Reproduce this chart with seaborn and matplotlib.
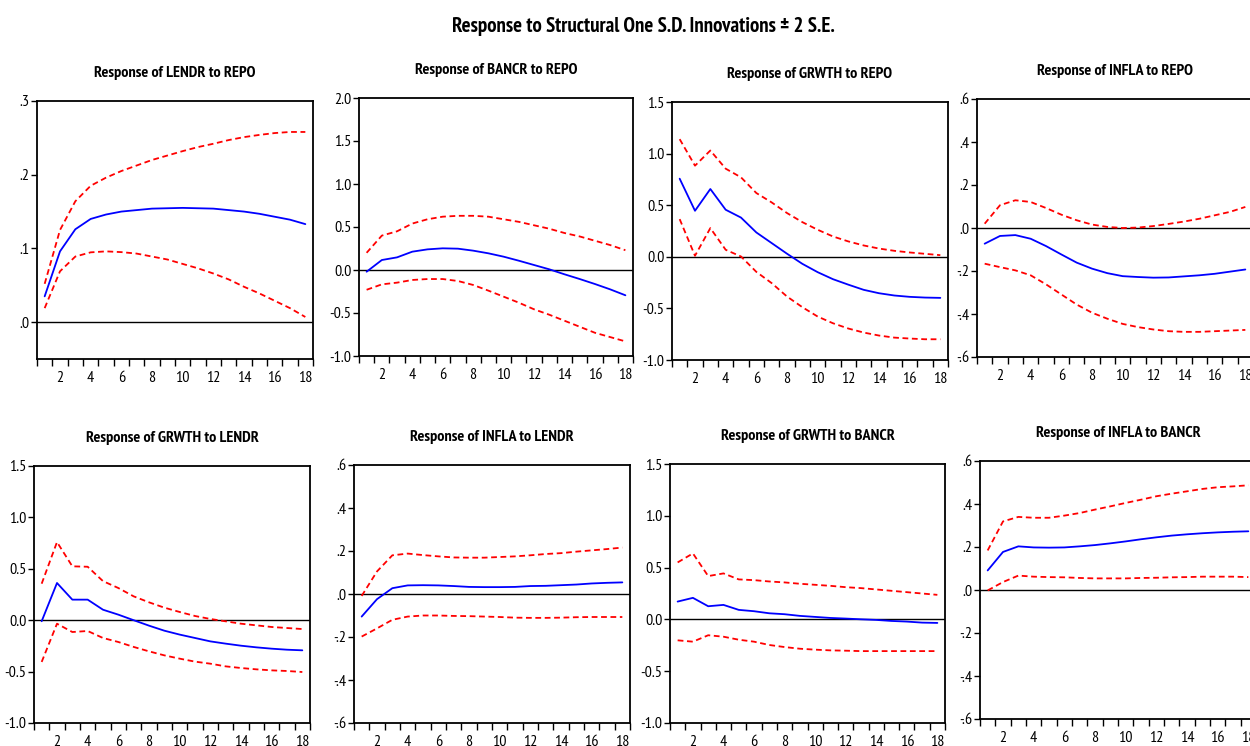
import matplotlib
matplotlib.use("Agg")
import matplotlib.pyplot as plt
import seaborn as sns
import pandas as pd
import numpy as np
from matplotlib import font_manager
from matplotlib.ticker import FixedLocator, FuncFormatter

periods = list(range(1, 19))

titles = [
    "Response of LENDR to REPO", "Response of BANCR to REPO",
    "Response of GRWTH to REPO", "Response of INFLA to REPO",
    "Response of GRWTH to LENDR", "Response of INFLA to LENDR",
    "Response of GRWTH to BANCR", "Response of INFLA to BANCR",
]

# Panel 1: LENDR to REPO
lendr_repo = [0.035, 0.096, 0.126, 0.140, 0.146, 0.150, 0.152, 0.154, 0.1545, 0.155,
              0.1545, 0.154, 0.152, 0.150, 0.147, 0.143, 0.139, 0.133]
lendr_repo_up = [0.052, 0.125, 0.164, 0.185, 0.196, 0.205, 0.2125, 0.220, 0.226, 0.232,
                 0.2375, 0.242, 0.247, 0.251, 0.254, 0.2565, 0.258, 0.258]
lendr_repo_lo = [0.019, 0.069, 0.089, 0.0947, 0.096, 0.095, 0.093, 0.089, 0.085, 0.079,
                 0.073, 0.066, 0.058, 0.048, 0.039, 0.029, 0.019, 0.007]

# Panel 2: BANCR to REPO
bancr_repo = [-0.02, 0.116, 0.147, 0.213, 0.240, 0.252, 0.248, 0.225, 0.194, 0.155,
              0.108, 0.058, 0.008, -0.050, -0.105, -0.163, -0.225, -0.294]
bancr_repo_up = [0.20, 0.40, 0.45, 0.54, 0.59, 0.62, 0.63, 0.63, 0.62, 0.59,
                 0.56, 0.52, 0.48, 0.43, 0.39, 0.34, 0.29, 0.23]
bancr_repo_lo = [-0.23, -0.167, -0.147, -0.116, -0.105, -0.105, -0.128, -0.174, -0.24, -0.31,
                 -0.38, -0.457, -0.52, -0.59, -0.66, -0.73, -0.78, -0.83]

# Panel 3: GRWTH to REPO
grwth_repo = [0.757, 0.446, 0.657, 0.456, 0.380, 0.236, 0.133, 0.030, -0.068, -0.149,
              -0.217, -0.270, -0.320, -0.353, -0.375, -0.388, -0.395, -0.398]
grwth_repo_up = [1.14, 0.883, 1.03, 0.854, 0.77, 0.618, 0.527, 0.424, 0.336, 0.262,
                 0.197, 0.149, 0.110, 0.080, 0.058, 0.042, 0.029, 0.016]
grwth_repo_lo = [0.365, 0.010, 0.278, 0.068, 0.003, -0.146, -0.255, -0.385, -0.488, -0.579,
                 -0.644, -0.695, -0.734, -0.763, -0.783, -0.792, -0.799, -0.799]

# Panel 4: INFLA to REPO
infla_repo = [-0.073, -0.037, -0.033, -0.050, -0.084, -0.123, -0.161, -0.189, -0.210, -0.224,
              -0.228, -0.231, -0.230, -0.225, -0.220, -0.213, -0.203, -0.193]
infla_repo_up = [0.020, 0.106, 0.129, 0.121, 0.093, 0.062, 0.036, 0.016, 0.005, 0.000,
                 0.002, 0.009, 0.019, 0.030, 0.043, 0.059, 0.075, 0.098]
infla_repo_lo = [-0.166, -0.182, -0.197, -0.220, -0.262, -0.309, -0.356, -0.394, -0.422, -0.446,
                 -0.461, -0.472, -0.480, -0.483, -0.483, -0.480, -0.477, -0.474]

# Panel 5: GRWTH to LENDR
grwth_lendr = [-0.010, 0.362, 0.200, 0.200, 0.102, 0.054, 0.000, -0.053, -0.102, -0.140,
               -0.173, -0.206, -0.228, -0.248, -0.264, -0.277, -0.287, -0.293]
grwth_lendr_up = [0.355, 0.760, 0.524, 0.520, 0.380, 0.313, 0.232, 0.174, 0.122, 0.080,
                  0.041, 0.012, -0.011, -0.034, -0.050, -0.066, -0.076, -0.086]
grwth_lendr_lo = [-0.406, -0.034, -0.115, -0.105, -0.173, -0.212, -0.260, -0.303, -0.342, -0.374,
                  -0.403, -0.423, -0.449, -0.465, -0.478, -0.488, -0.494, -0.504]

# Panel 6: INFLA to LENDR
infla_lendr = [-0.105, -0.024, 0.027, 0.040, 0.041, 0.040, 0.037, 0.033, 0.032, 0.032,
               0.033, 0.037, 0.038, 0.041, 0.044, 0.049, 0.052, 0.054]
infla_lendr_up = [-0.009, 0.105, 0.180, 0.188, 0.181, 0.175, 0.170, 0.169, 0.169, 0.172,
                  0.175, 0.180, 0.186, 0.190, 0.197, 0.203, 0.209, 0.216]
infla_lendr_lo = [-0.198, -0.160, -0.120, -0.105, -0.100, -0.100, -0.102, -0.103, -0.105, -0.107,
                  -0.110, -0.111, -0.111, -0.110, -0.108, -0.107, -0.107, -0.107]

# Panel 7: GRWTH to BANCR
grwth_bancr = [0.172, 0.208, 0.127, 0.140, 0.092, 0.079, 0.059, 0.050, 0.034, 0.024,
               0.014, 0.008, 0.001, -0.005, -0.015, -0.021, -0.031, -0.034]
grwth_bancr_up = [0.550, 0.637, 0.418, 0.444, 0.386, 0.379, 0.366, 0.357, 0.344, 0.334,
                  0.324, 0.311, 0.302, 0.289, 0.276, 0.263, 0.250, 0.237]
grwth_bancr_lo = [-0.202, -0.215, -0.153, -0.167, -0.196, -0.215, -0.247, -0.267, -0.283, -0.292,
                  -0.299, -0.302, -0.306, -0.306, -0.306, -0.306, -0.306, -0.306]

# Panel 8: INFLA to BANCR
infla_bancr = [0.091, 0.177, 0.203, 0.198, 0.197, 0.198, 0.203, 0.209, 0.217, 0.226,
               0.236, 0.245, 0.253, 0.259, 0.264, 0.268, 0.271, 0.273]
infla_bancr_up = [0.184, 0.319, 0.340, 0.336, 0.336, 0.346, 0.358, 0.374, 0.389, 0.405,
                  0.420, 0.436, 0.448, 0.459, 0.470, 0.478, 0.482, 0.487]
infla_bancr_lo = [-0.002, 0.037, 0.067, 0.062, 0.060, 0.059, 0.056, 0.054, 0.054, 0.054,
                  0.056, 0.057, 0.059, 0.060, 0.062, 0.062, 0.062, 0.060]

series = [
    (lendr_repo, lendr_repo_up, lendr_repo_lo),
    (bancr_repo, bancr_repo_up, bancr_repo_lo),
    (grwth_repo, grwth_repo_up, grwth_repo_lo),
    (infla_repo, infla_repo_up, infla_repo_lo),
    (grwth_lendr, grwth_lendr_up, grwth_lendr_lo),
    (infla_lendr, infla_lendr_up, infla_lendr_lo),
    (grwth_bancr, grwth_bancr_up, grwth_bancr_lo),
    (infla_bancr, infla_bancr_up, infla_bancr_lo),
]

ylims = [(-0.05, 0.3), (-1.0, 2.0), (-1.0, 1.5), (-0.6, 0.6),
         (-1.0, 1.5), (-0.6, 0.6), (-1.0, 1.5), (-0.6, 0.6)]
yticks = [[0.0, 0.1, 0.2, 0.3],
          [-1.0, -0.5, 0.0, 0.5, 1.0, 1.5, 2.0],
          [-1.0, -0.5, 0.0, 0.5, 1.0, 1.5],
          [-0.6, -0.4, -0.2, 0.0, 0.2, 0.4, 0.6],
          [-1.0, -0.5, 0.0, 0.5, 1.0, 1.5],
          [-0.6, -0.4, -0.2, 0.0, 0.2, 0.4, 0.6],
          [-1.0, -0.5, 0.0, 0.5, 1.0, 1.5],
          [-0.6, -0.4, -0.2, 0.0, 0.2, 0.4, 0.6]]
ystyle = ["dot", "dec", "dec", "dot", "dec", "dot", "dec", "dot"]

# axes boxes in pixels: left, right, top, bottom
W, H = 1250, 746
boxes = [(37, 313, 101, 359), (359, 633, 98, 356), (672, 948, 102, 360), (977, 1253, 99, 357),
         (34, 310, 466, 723), (354, 630, 465, 723), (670, 945, 464, 723), (980, 1256, 461, 719)]

sns.set_theme(style="white")

# pick a narrow family that has both regular and bold faces
candidates = ["Liberation Sans Narrow", "Arial Narrow", "Archivo Narrow", "PT Sans Narrow",
              "Roboto Condensed", "Fira Sans Condensed", "IBM Plex Sans Condensed",
              "Encode Sans Condensed", "Asap Condensed", "Barlow Semi Condensed",
              "Pragati Narrow", "Open Sans Condensed"]

def wnum(w):
    if isinstance(w, str):
        return font_manager.weight_dict.get(w, 400)
    return int(w)

entries = {}
for f in font_manager.fontManager.ttflist:
    entries.setdefault(f.name, set()).add(wnum(f.weight))

chosen = None
for c in candidates:
    ws = entries.get(c, set())
    if any(w >= 600 for w in ws) and any(w <= 500 for w in ws):
        chosen = c
        break
FONT = ([chosen] if chosen else []) + ["Liberation Sans", "DejaVu Sans"]
plt.rcParams["font.family"] = FONT

fig = plt.figure(figsize=(W / 100, H / 100), dpi=100)
fig.patch.set_facecolor("white")

def fmt_dot(v, pos):
    s = f"{v:.1f}"
    if s.startswith("0"):
        s = s[1:]
    elif s.startswith("-0"):
        s = "-" + s[2:]
    return s

def fmt_dec(v, pos):
    return f"{v:.1f}"

for i in range(8):
    l, r, t, b = boxes[i]
    ax = fig.add_axes([l / W, 1 - b / H, (r - l) / W, (b - t) / H])
    ax.set_facecolor("white")
    imp, up, lo = series[i]
    df = pd.DataFrame({"period": periods, "imp": imp, "up": up, "lo": lo})
    ax.axhline(0, color="black", lw=1.0, zorder=1)
    sns.lineplot(data=df, x="period", y="up", ax=ax, color="#FF0000", lw=1.3,
                 linestyle=(0, (3.2, 2.0)), zorder=3)
    sns.lineplot(data=df, x="period", y="lo", ax=ax, color="#FF0000", lw=1.3,
                 linestyle=(0, (3.2, 2.0)), zorder=3)
    sns.lineplot(data=df, x="period", y="imp", ax=ax, color="#0000FF", lw=1.3, zorder=4)
    ax.set_xlim(0.5, 18.5)
    ax.set_ylim(*ylims[i])
    ax.set_xlabel("")
    ax.set_ylabel("")
    ax.xaxis.set_major_locator(FixedLocator(list(range(2, 19, 2))))
    ax.xaxis.set_minor_locator(FixedLocator([p + 0.5 for p in range(0, 19)]))
    ax.yaxis.set_major_locator(FixedLocator(yticks[i]))
    ax.yaxis.set_major_formatter(FuncFormatter(fmt_dot if ystyle[i] == "dot" else fmt_dec))
    ax.tick_params(axis="x", which="major", length=0, pad=8.5, labelsize=11.5, colors="black")
    ax.tick_params(axis="x", which="minor", bottom=True, length=5, width=1.0, direction="out", color="black")
    ax.tick_params(axis="y", which="major", left=True, length=4, width=1.0, direction="out", pad=1.5,
                   labelsize=11.5, colors="black")
    for sp in ax.spines.values():
        sp.set_visible(True)
        sp.set_color("black")
        sp.set_linewidth(1.3)
    ax.set_title(titles[i], fontsize=11.6, fontweight="bold", pad=17, color="black")

fig.text(0.515, 1 - 26 / H, "Response to Structural One S.D. Innovations \u00b1 2 S.E.",
         ha="center", va="center", fontsize=15, fontweight="bold", color="black")

fig.savefig("out.png", dpi=100)
